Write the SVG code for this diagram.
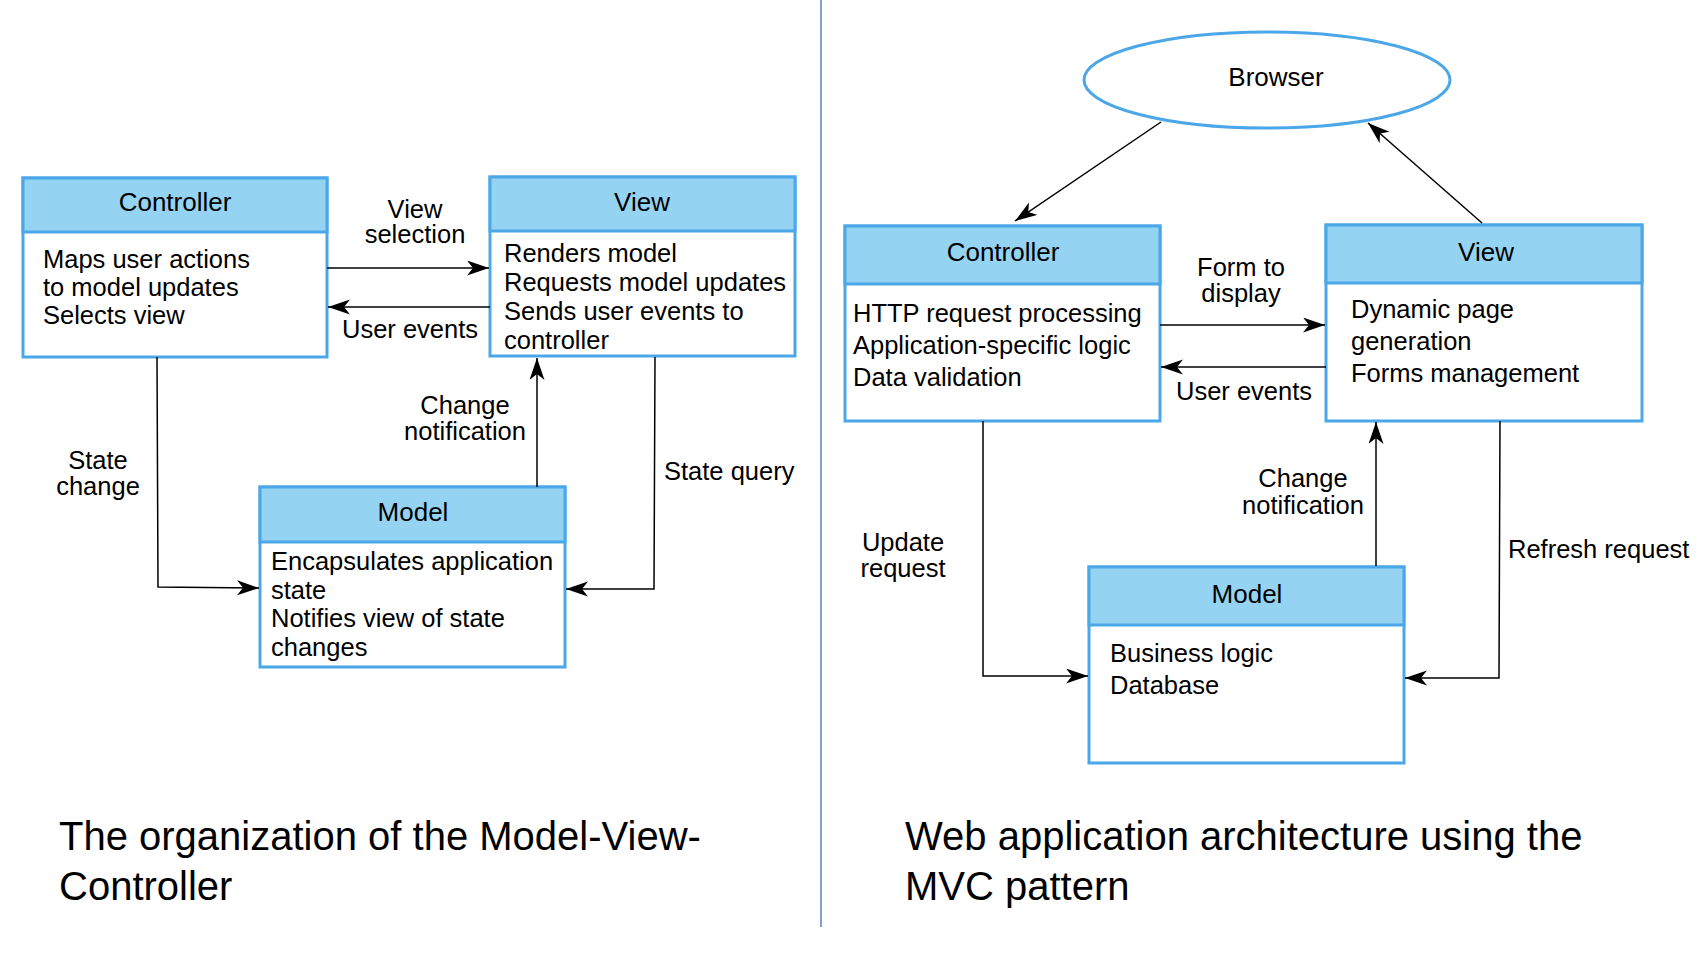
<svg xmlns="http://www.w3.org/2000/svg" width="1708" height="964" viewBox="0 0 1708 964">
<style>
  .box { fill: #ffffff; stroke: #4BA7E8; stroke-width: 3; }
  .hdr { fill: #95D3F2; stroke: #4BA7E8; stroke-width: 3; }
  .t { font-family: "Liberation Sans", Arial, sans-serif; font-size: 25.5px; fill: #000; }
  .ttl { font-family: "Liberation Sans", Arial, sans-serif; font-size: 26px; fill: #000; text-anchor: middle; }
  .c { text-anchor: middle; }
  .cap { font-family: "Liberation Sans", Arial, sans-serif; font-size: 40px; fill: #000; }
  .conn { fill: none; stroke: #000; stroke-width: 1.5; marker-end: url(#arr); }
</style>
<defs>
  <marker id="arr" markerUnits="userSpaceOnUse" markerWidth="24" markerHeight="16" refX="22" refY="7.5" orient="auto">
    <path d="M0,0 L22,7.5 L0,15 L6,7.5 z" fill="#000"/>
  </marker>
</defs>
<rect x="0" y="0" width="1708" height="964" fill="#ffffff"/>

<line id="divider" x1="821" y1="0" x2="821" y2="927" stroke="#5B7FC3" stroke-width="1.5"/>

<!-- Left diagram -->
<g id="l-controller">
  <rect class="box" x="23" y="178" width="304" height="179"/>
  <rect class="hdr" x="23" y="178" width="304" height="54"/>
  <text class="ttl" x="175" y="211">Controller</text>
  <text class="t" x="43" y="268">Maps user actions</text>
  <text class="t" x="43" y="296">to model updates</text>
  <text class="t" x="43" y="324">Selects view</text>
</g>
<g id="l-view">
  <rect class="box" x="490" y="177" width="305" height="179"/>
  <rect class="hdr" x="490" y="177" width="305" height="54"/>
  <text class="ttl" x="642" y="211">View</text>
  <text class="t" x="504" y="262">Renders model</text>
  <text class="t" x="504" y="291">Requests model updates</text>
  <text class="t" x="504" y="320">Sends user events to</text>
  <text class="t" x="504" y="349">controller</text>
</g>
<g id="l-model">
  <rect class="box" x="260" y="487" width="305" height="180"/>
  <rect class="hdr" x="260" y="487" width="305" height="55"/>
  <text class="ttl" x="413" y="521">Model</text>
  <text class="t" x="271" y="570">Encapsulates application</text>
  <text class="t" x="271" y="599">state</text>
  <text class="t" x="271" y="627">Notifies view of state</text>
  <text class="t" x="271" y="656">changes</text>
</g>

<!-- Right diagram -->
<g id="r-browser">
  <ellipse cx="1267" cy="80" rx="183" ry="48" fill="#fff" stroke="#4BA7E8" stroke-width="3"/>
  <text class="ttl" x="1276" y="86">Browser</text>
</g>
<g id="r-controller">
  <rect class="box" x="845" y="226" width="315" height="195"/>
  <rect class="hdr" x="845" y="226" width="315" height="58"/>
  <text class="ttl" x="1003" y="261">Controller</text>
  <text class="t" x="853" y="322">HTTP request processing</text>
  <text class="t" x="853" y="354">Application-specific logic</text>
  <text class="t" x="853" y="386">Data validation</text>
</g>
<g id="r-view">
  <rect class="box" x="1326" y="225" width="316" height="196"/>
  <rect class="hdr" x="1326" y="225" width="316" height="58"/>
  <text class="ttl" x="1486" y="261">View</text>
  <text class="t" x="1351" y="318">Dynamic page</text>
  <text class="t" x="1351" y="350">generation</text>
  <text class="t" x="1351" y="382">Forms management</text>
</g>
<g id="r-model">
  <rect class="box" x="1089" y="567" width="315" height="196"/>
  <rect class="hdr" x="1089" y="567" width="315" height="58"/>
  <text class="ttl" x="1247" y="603">Model</text>
  <text class="t" x="1110" y="662">Business logic</text>
  <text class="t" x="1110" y="694">Database</text>
</g>

<g id="connectors">
  <!-- left -->
  <path class="conn" d="M327,268 L489,268"/>
  <path class="conn" d="M490,307 L328,307"/>
  <path class="conn" d="M157,357 L158,587 L259,588"/>
  <path class="conn" d="M537,487 L537,358"/>
  <path class="conn" d="M655,357 L654,589 L566,589"/>
  <!-- right -->
  <path class="conn" d="M1161,122 L1015,221"/>
  <path class="conn" d="M1482,223 L1368,123"/>
  <path class="conn" d="M1160,325 L1325,325"/>
  <path class="conn" d="M1326,367 L1161,367"/>
  <path class="conn" d="M983,421 L983,676 L1088,676"/>
  <path class="conn" d="M1376,566 L1376,422"/>
  <path class="conn" d="M1500,421 L1499,678 L1405,678"/>
</g>

<g id="labels">
  <text class="t c" x="415" y="218">View</text>
  <text class="t c" x="415" y="243">selection</text>
  <text class="t c" x="410" y="338">User events</text>
  <text class="t c" x="465" y="414">Change</text>
  <text class="t c" x="465" y="440">notification</text>
  <text class="t c" x="98" y="469">State</text>
  <text class="t c" x="98" y="495">change</text>
  <text class="t" x="664" y="480">State query</text>

  <text class="t c" x="1241" y="276">Form to</text>
  <text class="t c" x="1241" y="302">display</text>
  <text class="t c" x="1244" y="400">User events</text>
  <text class="t c" x="903" y="551">Update</text>
  <text class="t c" x="903" y="577">request</text>
  <text class="t c" x="1303" y="487">Change</text>
  <text class="t c" x="1303" y="514">notification</text>
  <text class="t" x="1508" y="558">Refresh request</text>
</g>

<g id="captions">
  <text class="cap" x="59" y="850">The organization of the Model-View-</text>
  <text class="cap" x="59" y="900">Controller</text>
  <text class="cap" x="905" y="850">Web application architecture using the</text>
  <text class="cap" x="905" y="900">MVC pattern</text>
</g>
</svg>
